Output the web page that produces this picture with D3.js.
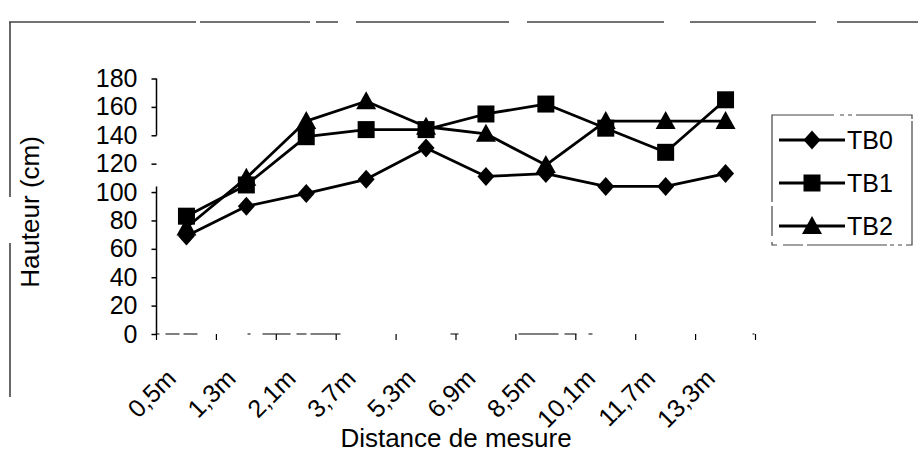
<!DOCTYPE html>
<html>
<head>
<meta charset="utf-8">
<script src="https://cdn.jsdelivr.net/npm/d3@7"></script>
<style>
  html, body { margin: 0; padding: 0; background: #fff; }
  svg { display: block; }
  text { font-family: "Liberation Sans", Arial, sans-serif; fill: #000; }
</style>
</head>
<body>
<svg id="chart" width="918" height="455"></svg>
<script>
// Distance categories along the measuring line
const categories = ["0,5m", "1,3m", "2,1m", "3,7m", "5,3m", "6,9m", "8,5m", "10,1m", "11,7m", "13,3m"];

// Plant height (cm) per treatment
const TB0 = [69, 90, 99, 109, 131, 111, 113, 104, 104, 113];
const TB1 = [83, 105, 139, 144, 144, 155, 162, 145, 128, 165];
const TB2 = [75, 110, 150, 164, 146, 141, 119, 150, 150, 150];

const yTicks = [0, 20, 40, 60, 80, 100, 120, 140, 160, 180];
const seriesNames = ["TB0", "TB1", "TB2"];
const seriesValues = [TB0, TB1, TB2];
const seriesShapes = ["diamond", "square", "triangle"];

const svg = d3.select("#chart");

// Outer chart frame (thin grey, slightly broken like a photocopy)
const frame = svg.append("g").attr("stroke", "#444").attr("stroke-width", 1.6).attr("fill", "none");
frame.append("line").attr("x1", 9).attr("y1", 22).attr("x2", 918).attr("y2", 22)
  .attr("stroke-dasharray", "187,4,110,6,22,18,153,18,137,26,126,21,200");
frame.append("line").attr("x1", 10).attr("y1", 22).attr("x2", 10).attr("y2", 397)
  .attr("stroke-dasharray", "175,46,200");

// Scales
const xBand = d3.scaleBand().domain(categories).range([156.5, 755.5]);
const xc = c => xBand(c) + xBand.bandwidth() / 2;
const y = d3.scaleLinear().domain([0, 180]).range([334, 78.5]);

// Y axis
const yAxis = svg.append("g").attr("transform", "translate(156.5,0)")
  .call(d3.axisLeft(y).tickValues(yTicks).tickSize(5).tickPadding(14));
yAxis.select(".domain").attr("stroke", "#000").attr("stroke-width", 1.5)
  .attr("d", `M0,${y(180)}V${y(0)}`)
  .attr("stroke-dasharray", "57,51,200");
yAxis.selectAll(".tick line").attr("stroke", "#000").attr("stroke-width", 1.5);
yAxis.selectAll(".tick text")
  .style("font-size", "25px").style("font-family", "'Liberation Sans', Arial, sans-serif");

// X axis line and tick marks at category boundaries
const xAxis = svg.append("g");
xAxis.append("line")
  .attr("x1", xBand.range()[0]).attr("x2", xBand.range()[1])
  .attr("y1", y(0)).attr("y2", y(0))
  .attr("stroke", "#000").attr("stroke-width", 1.2)
  .attr("stroke-dasharray", "3,6,14,4,14,50,3,12,28,6,10,4,30,110,8,60,40,6,12,12,4,160,2,200");
const bounds = categories.map(c => xBand(c)).concat([xBand.range()[1]]);
xAxis.selectAll("line.tk").data(bounds).enter().append("line").attr("class", "tk")
  .attr("x1", d => d).attr("x2", d => d)
  .attr("y1", y(0)).attr("y2", y(0) + 6)
  .attr("stroke", "#000").attr("stroke-width", 1.2);

// Rotated category labels
svg.append("g").selectAll("text").data(categories).enter().append("text")
  .attr("transform", d => `translate(${xc(d) - 9},380) rotate(-45)`)
  .attr("text-anchor", "end")
  .style("font-size", "25px")
  .text(d => d);

// Axis titles
svg.append("text")
  .attr("x", (xBand.range()[0] + xBand.range()[1]) / 2).attr("y", 447)
  .attr("text-anchor", "middle").style("font-size", "26px")
  .text("Distance de mesure");
svg.append("text")
  .attr("transform", "translate(39,212) rotate(-90)")
  .attr("text-anchor", "middle").style("font-size", "26px")
  .text("Hauteur (cm)");

// Marker shapes
function markerPath(shape) {
  if (shape === "diamond") return "M0,-9.5L8.5,0L0,9.5L-8.5,0Z";
  if (shape === "square") return "M-8.5,-8.5H8.5V8.5H-8.5Z";
  return "M0,-10L10,8L-10,8Z";
}

// Series lines and markers
const line = d3.line().x((d, i) => xc(categories[i])).y(d => y(d));
seriesValues.forEach((vals, s) => {
  const g = svg.append("g");
  g.append("path").datum(vals).attr("d", line)
    .attr("fill", "none").attr("stroke", "#000").attr("stroke-width", 2.8)
    .attr("stroke-linejoin", "round");
  g.selectAll("path.mk").data(vals).enter().append("path").attr("class", "mk")
    .attr("d", markerPath(seriesShapes[s]))
    .attr("transform", (d, i) => `translate(${xc(categories[i])},${y(d)})`)
    .attr("fill", "#000");
});

// Legend
const lg = svg.append("g");
lg.append("rect").attr("x", 772).attr("y", 115).attr("width", 140).attr("height", 130)
  .attr("fill", "none").attr("stroke", "#444").attr("stroke-width", 1.2)
  .attr("stroke-dasharray", "62,6,4,4,4,4,60,2,130,4,4,4,4,3,80,4,20,6,8,6,30,4,140");
const legendY = d3.scalePoint().domain(seriesNames).range([140, 226]);
seriesNames.forEach((name, s) => {
  const ly = legendY(name);
  lg.append("line").attr("x1", 779).attr("x2", 845).attr("y1", ly).attr("y2", ly)
    .attr("stroke", "#000").attr("stroke-width", 2.8);
  lg.append("path").attr("d", markerPath(seriesShapes[s]))
    .attr("transform", `translate(812,${ly})`).attr("fill", "#000");
  lg.append("text").attr("x", 847).attr("y", ly + 9)
    .style("font-size", "25px").text(name);
});
</script>
</body>
</html>
